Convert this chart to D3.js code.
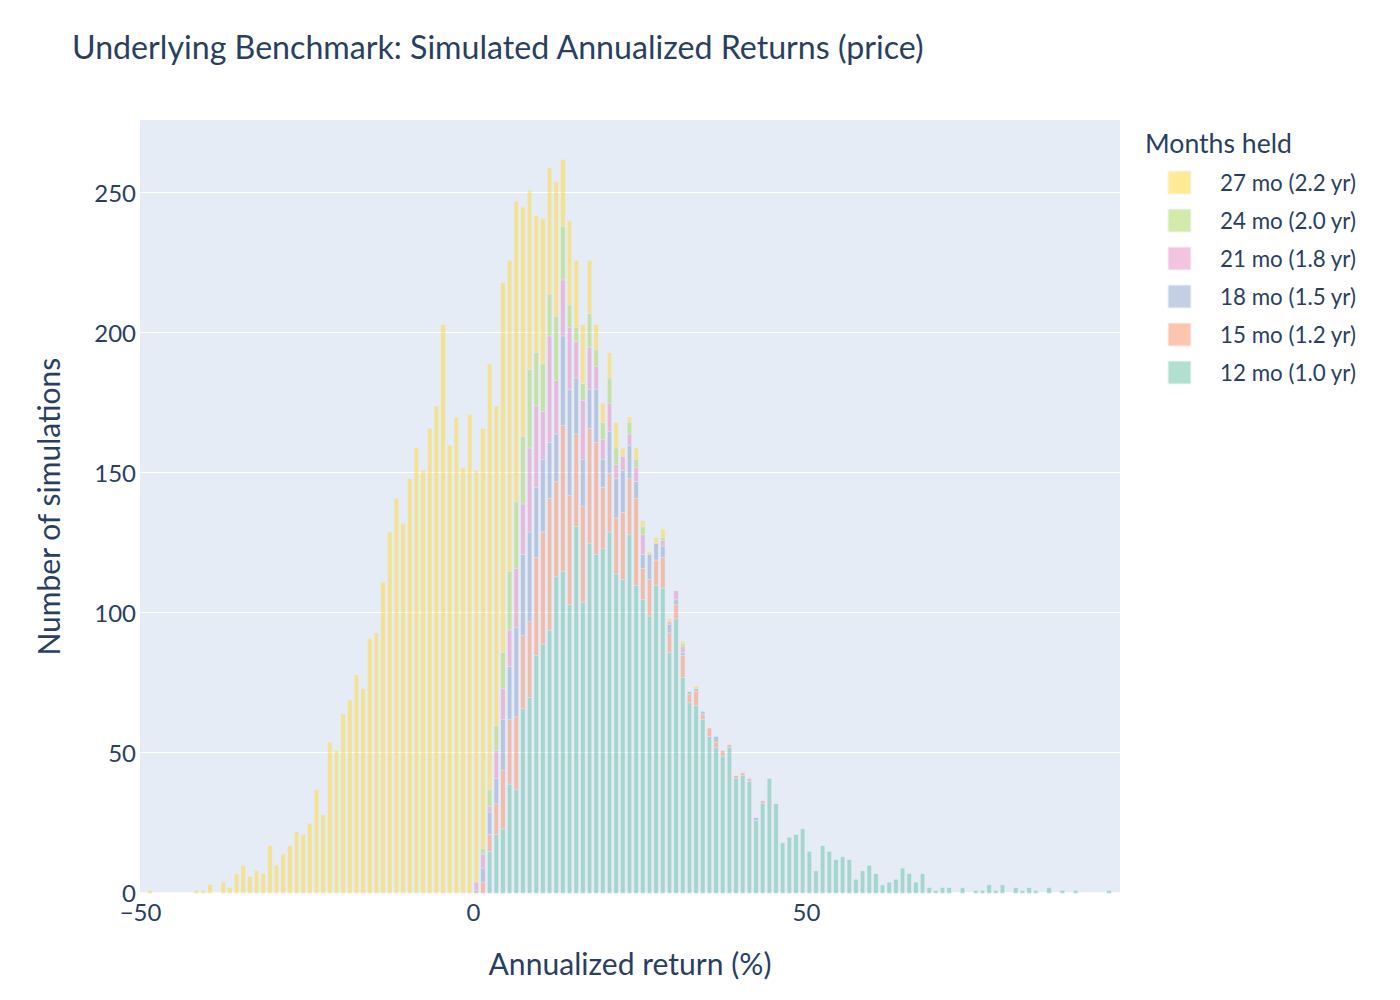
<!DOCTYPE html>
<html>
<head>
<meta charset="utf-8">
<script src="https://cdnjs.cloudflare.com/ajax/libs/d3/7.8.5/d3.min.js"></script>
<style>
  body { margin: 0; background: #fff; }
  svg { display: block; font-family: Lato, "Open Sans", sans-serif; }
</style>
</head>
<body>
<svg id="chart" width="1400" height="1000"></svg>
<script>
// histogram bins: 1 point wide, first bin starts at -50
var binStart = -50;
var binEnd = 96;
var binSize = 1;

var seriesNames = ["12 mo (1.0 yr)", "15 mo (1.2 yr)", "18 mo (1.5 yr)", "21 mo (1.8 yr)", "24 mo (2.0 yr)", "27 mo (2.2 yr)"];
var seriesColors = ["rgb(102,194,165)", "rgb(252,141,98)", "rgb(141,160,203)", "rgb(231,138,195)", "rgb(166,216,84)", "rgb(255,217,47)"];

// first bin of each count list below
var countsFirstBin = [0, 0, 0, 0, 0, -50];

// 12 months, bins 0 .. 95
var counts12 = [0, 0, 15, 21, 23, 39, 37, 66, 70, 85,
  89, 94, 113, 115, 103, 131, 104, 125, 121, 123,
  129, 114, 112, 128, 110, 105, 99, 110, 109, 86,
  98, 77, 68, 67, 62, 56, 52, 49, 52, 41,
  42, 40, 26, 32, 41, 32, 18, 20, 21, 23,
  15, 8, 17, 15, 12, 13, 12, 5, 8, 10,
  7, 3, 4, 5, 9, 7, 4, 7, 2, 1,
  2, 2, 0, 2, 0, 1, 1, 3, 1, 3,
  0, 2, 1, 2, 1, 0, 2, 0, 1, 0,
  1, 0, 0, 0, 0, 1];

// 15 months, bins 0 .. 43
var counts15 = [0, 4, 6, 11, 21, 23, 26, 26, 27, 35,
  40, 47, 34, 52, 39, 33, 34, 41, 40, 22,
  21, 20, 24, 20, 31, 11, 13, 9, 11, 7,
  5, 8, 3, 5, 2, 3, 2, 2, 1, 1,
  1, 0, 0, 1];

// 18 months, bins 0 .. 42
var counts18 = [1, 5, 8, 9, 18, 19, 32, 29, 32, 25,
  26, 20, 17, 32, 38, 20, 17, 14, 19, 10,
  15, 14, 15, 12, 6, 5, 9, 6, 4, 3,
  2, 1, 1, 1, 1, 0, 2, 0, 0, 0,
  0, 0, 1];

// 21 months, bins 0 .. 41
var counts21 = [3, 5, 2, 10, 11, 13, 21, 18, 30, 29,
  17, 38, 19, 20, 22, 13, 21, 15, 8, 7,
  10, 5, 5, 4, 5, 7, 0, 0, 2, 1,
  3, 2, 0, 0, 0, 0, 0, 0, 0, 0,
  0, 1];

// 24 months, bins 0 .. 31
var counts24 = [0, 2, 6, 9, 13, 21, 24, 24, 28, 19,
  17, 15, 23, 19, 8, 5, 6, 12, 6, 6,
  9, 6, 0, 4, 3, 3, 0, 0, 1, 0,
  0, 1];

// 27 months, bins -50 .. 33
var counts27 = [0, 1, 0, 0, 0, 0, 0, 0, 1, 1,
  3, 0, 4, 2, 7, 10, 6, 8, 7, 17,
  10, 14, 17, 22, 21, 25, 37, 28, 54, 51,
  64, 69, 78, 73, 91, 93, 111, 129, 141, 132,
  148, 159, 151, 166, 174, 203, 160, 170, 152, 171,
  147, 150, 152, 114, 132, 111, 107, 82, 64, 49,
  52, 45, 48, 24, 30, 24, 21, 19, 9, 7,
  9, 9, 3, 2, 4, 2, 1, 2, 3, 1,
  0, 1, 0, 1];

var yTicks = [0, 50, 100, 150, 200, 250];
var xTicks = [-50, 0, 50];

var countLists = [counts12, counts15, counts18, counts21, counts24, counts27];
var keys = ["m12", "m15", "m18", "m21", "m24", "m27"];

var plotLeft = 140, plotRight = 1120, plotTop = 120, plotBottom = 893.3;
var textColor = "#2a3f5f";
var bgColor = "#E5ECF6";
var barFill = 0.67;

var svg = d3.select("#chart");

var x = d3.scaleLinear().domain([-50, 97.15]).range([plotLeft, plotRight]);
var y = d3.scaleLinear().domain([0, 276.1]).range([plotBottom, plotTop]);

// tabla para d3.stack
var rows = d3.range(binStart, binEnd, binSize).map(function (b) {
  var r = { bin: b };
  keys.forEach(function (k, i) {
    var idx = b - countsFirstBin[i];
    var arr = countLists[i];
    r[k] = (idx >= 0 && idx < arr.length) ? arr[idx] : 0;
  });
  return r;
});
var stacked = d3.stack().keys(keys)(rows);

var fitText = function (node, target) {
  var w = node.getComputedTextLength();
  var fs = parseFloat(node.getAttribute("font-size"));
  node.setAttribute("font-size", (fs * target / w).toFixed(2));
};

// fondo
svg.append("rect")
  .attr("x", plotLeft).attr("y", plotTop)
  .attr("width", plotRight - plotLeft).attr("height", plotBottom - plotTop)
  .attr("fill", bgColor);

// grid
svg.append("g")
  .attr("shape-rendering", "crispEdges")
  .selectAll("line")
  .data(yTicks.filter(function (d) { return d > 0; }))
  .join("line")
  .attr("x1", plotLeft).attr("x2", plotRight)
  .attr("y1", function (d) { return Math.round(y(d)) - 0.5; })
  .attr("y2", function (d) { return Math.round(y(d)) - 0.5; })
  .attr("stroke", "#fff").attr("stroke-width", 1);

svg.append("line")
  .attr("x1", plotLeft).attr("x2", plotRight)
  .attr("y1", y(0)).attr("y2", y(0))
  .attr("stroke", "#fff").attr("stroke-width", 2);

// barras apiladas
var barW = (x(binSize) - x(0)) * barFill;
svg.append("g")
  .selectAll("g")
  .data(stacked)
  .join("g")
  .attr("fill", function (d, i) { return seriesColors[i]; })
  .selectAll("rect")
  .data(function (layer) { return layer.filter(function (d) { return d[1] > d[0]; }); })
  .join("rect")
  .attr("x", function (d) { return x(d.data.bin + binSize / 2) - barW / 2; })
  .attr("y", function (d) { return y(d[1]); })
  .attr("width", barW)
  .attr("height", function (d) { return y(d[0]) - y(d[1]); })
  .attr("stroke", bgColor)
  .attr("stroke-width", 0.5)
  .attr("opacity", 0.5);

// ejes
var yAxis = svg.append("g")
  .attr("transform", "translate(" + (plotLeft - 4) + ",0)")
  .call(d3.axisLeft(y).tickValues(yTicks).tickSize(0).tickPadding(0));
var xAxis = svg.append("g")
  .attr("transform", "translate(0," + plotBottom + ")")
  .call(d3.axisBottom(x).tickValues(xTicks).tickSize(0).tickPadding(0));
svg.selectAll(".domain").remove();
svg.selectAll(".tick text")
  .attr("fill", textColor)
  .attr("font-family", "Lato, 'Open Sans', sans-serif")
  .attr("font-size", 24);
yAxis.selectAll(".tick text").attr("dy", "0.36em");
xAxis.selectAll(".tick text").attr("dy", null).attr("y", 27.5);

// titulos
var title = svg.append("text")
  .attr("x", 72).attr("y", 59)
  .attr("fill", textColor).attr("font-size", 30)
  .text("Underlying Benchmark: Simulated Annualized Returns (price)");
fitText(title.node(), 852);

var xTitle = svg.append("text")
  .attr("x", (plotLeft + plotRight) / 2).attr("y", 975)
  .attr("text-anchor", "middle")
  .attr("fill", textColor).attr("font-size", 26)
  .text("Annualized return (%)");
fitText(xTitle.node(), 283);

var yTitle = svg.append("text")
  .attr("transform", "translate(60," + ((plotTop + plotBottom) / 2) + ") rotate(-90)")
  .attr("text-anchor", "middle")
  .attr("fill", textColor).attr("font-size", 26)
  .text("Number of simulations");
fitText(yTitle.node(), 298);

// leyenda (orden invertido, como la pila)
var legend = svg.append("g");
var legTitle = legend.append("text")
  .attr("x", 1145).attr("y", 153)
  .attr("fill", textColor).attr("font-size", 24)
  .text("Months held");
fitText(legTitle.node(), 147);

var legendOrder = [5, 4, 3, 2, 1, 0];
var items = legend.selectAll("g.item")
  .data(legendOrder)
  .join("g")
  .attr("class", "item")
  .attr("transform", function (d, i) { return "translate(0," + (i * 38) + ")"; });

items.append("rect")
  .attr("x", 1168).attr("y", 171)
  .attr("width", 23).attr("height", 23)
  .attr("fill", function (d) { return seriesColors[d]; })
  .attr("stroke", bgColor).attr("stroke-width", 1)
  .attr("opacity", 0.5);

var itemText = items.append("text")
  .attr("x", 1220).attr("y", 191)
  .attr("fill", textColor).attr("font-size", 20)
  .text(function (d) { return seriesNames[d]; });
fitText(itemText.nodes()[0], 136);
itemText.attr("font-size", itemText.nodes()[0].getAttribute("font-size"));
</script>
</body>
</html>
